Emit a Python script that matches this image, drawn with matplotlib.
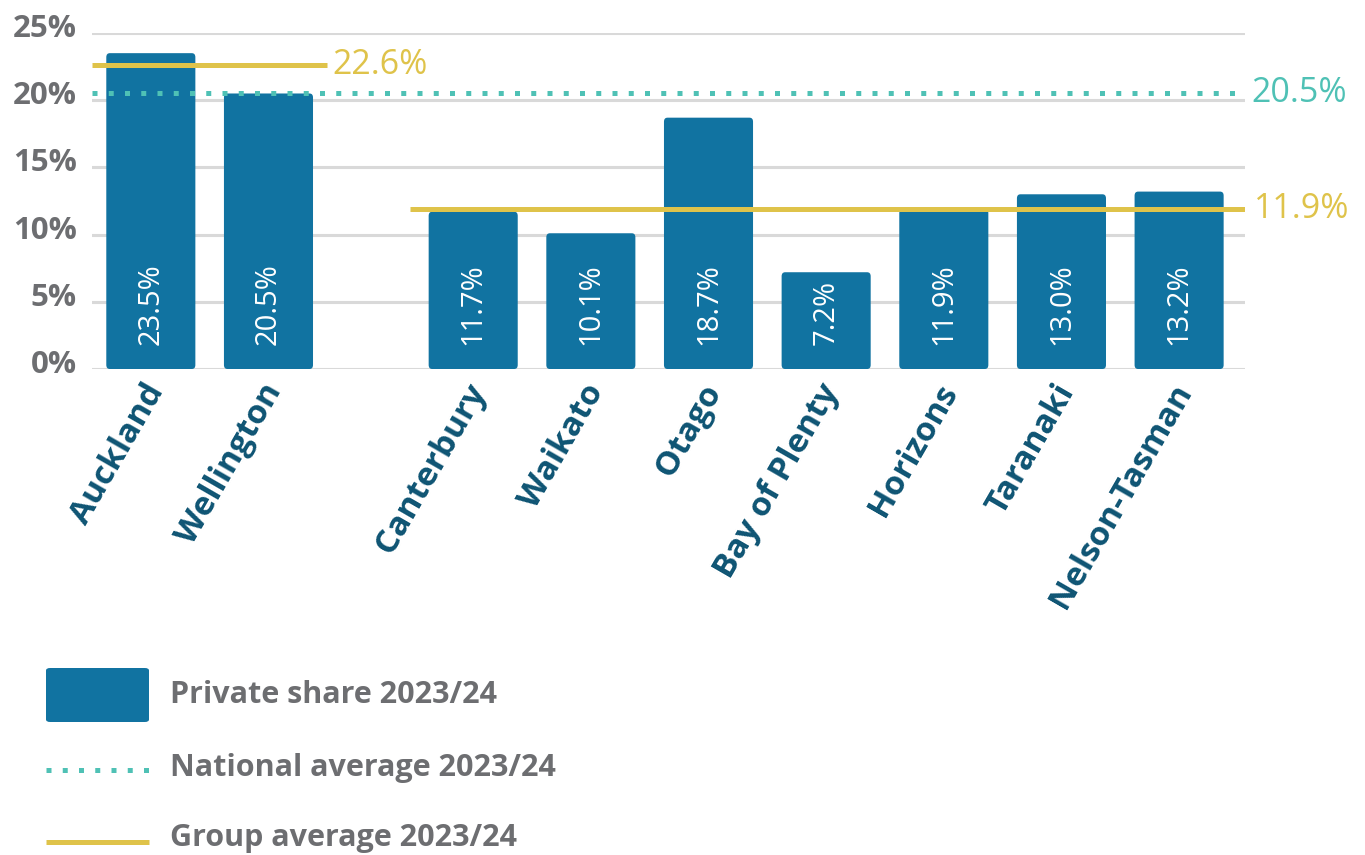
import matplotlib.pyplot as plt
from matplotlib.patches import FancyBboxPatch
from matplotlib.lines import Line2D
import numpy as np

# Private share by region, 2023/24
regions = ["Auckland", "Wellington", "Canterbury", "Waikato", "Otago",
           "Bay of Plenty", "Horizons", "Taranaki", "Nelson-Tasman"]
private_share = [23.5, 20.5, 11.7, 10.1, 18.7, 7.2, 11.9, 13.0, 13.2]
metro_avg = 22.6
regional_avg = 11.9
national_avg = 20.5
y_ticks = [0, 5, 10, 15, 20, 25]

BLUE = "#1173a1"
TEAL = "#4fc1b5"
GOLD = "#dfc34a"
GREY = "#6d6e71"
DARK = "#0e5473"
FONT = ["Open Sans", "DejaVu Sans"]

# metro pair, then a narrower gap before the regional group
xpos = np.array([0, 1] + [1.74 + i for i in range(1, 8)])

fig = plt.figure(figsize=(13.65, 8.55), dpi=100)
ax = fig.add_axes([92 / 1365, (855 - 369) / 855, (1245 - 92) / 1365, 336 / 855])
ax.set_xlim(-0.5, 9.3)
ax.set_ylim(0, 25)
ax.axis("off")

for t in y_ticks:
    ax.axhline(t, color="#d9d9d9", lw=2.2, zorder=0)
    ax.text(-0.63, t - 0.3, f"{t}%", ha="right", va="baseline", fontsize=22.5,
            color=GREY, fontweight="bold", family=FONT)

w = 0.757
for x, v in zip(xpos, private_share):
    ax.add_patch(FancyBboxPatch((x - w / 2, 0), w, v,
                                boxstyle="round,pad=0,rounding_size=0.03",
                                mutation_aspect=10, fc=BLUE, ec="none", zorder=2))
    ax.text(x, 1.8, f"{v:.1f}%", rotation=90, rotation_mode="anchor",
            ha="left", va="center", color="white", fontsize=21, family=FONT, zorder=4)

# national average
ax.plot([-0.5, 9.3], [national_avg] * 2, color=TEAL, lw=3.6,
        ls=(0, (1, 2.25)), dash_capstyle="butt", zorder=3, clip_on=False)
ax.text(9.35, national_avg, f"{national_avg}%", color=TEAL, fontsize=24.5,
        va="center", ha="left", family=FONT, clip_on=False)

# group averages
ax.plot([-0.5, 1.495], [metro_avg] * 2, color=GOLD, lw=3.6, zorder=3,
        solid_capstyle="butt")
ax.text(1.54, metro_avg, f"{metro_avg}%", color=GOLD, fontsize=24.5,
        va="center", ha="left", family=FONT)
ax.plot([2.2, 9.3], [regional_avg] * 2, color=GOLD, lw=3.6, zorder=3,
        solid_capstyle="butt")
ax.text(9.38, regional_avg, f"{regional_avg}%", color=GOLD, fontsize=24.5,
        va="center", ha="left", family=FONT, clip_on=False)

for x, name in zip(xpos, regions):
    ax.text(x + 0.05, -1.3, name, rotation=60, rotation_mode="anchor",
            ha="right", va="center", color=DARK, fontsize=24,
            fontweight="bold", family=FONT)

# legend
fx = lambda px: px / 1365
fy = lambda py: (855 - py) / 855
fig.patches.append(FancyBboxPatch((fx(46), fy(722)), fx(149) - fx(46), fy(668) - fy(722),
                                  boxstyle="round,pad=0,rounding_size=0.003",
                                  transform=fig.transFigure, fc=BLUE, ec="none"))
fig.lines.append(Line2D([fx(46), fx(149)], [fy(770)] * 2, transform=fig.transFigure,
                        color=TEAL, lw=3.6, ls=(0, (1, 2.25)), dash_capstyle="butt"))
fig.lines.append(Line2D([fx(46), fx(149)], [fy(842)] * 2, transform=fig.transFigure,
                        color=GOLD, lw=3.6, solid_capstyle="butt"))
for py, label in [(695, "Private share 2023/24"), (768, "National average 2023/24"),
                  (838, "Group average 2023/24")]:
    fig.text(fx(170), fy(py), label, ha="left", va="center", fontsize=22,
             color=GREY, fontweight="bold", family=FONT)

fig.savefig("out.png", dpi=100, facecolor="white")
